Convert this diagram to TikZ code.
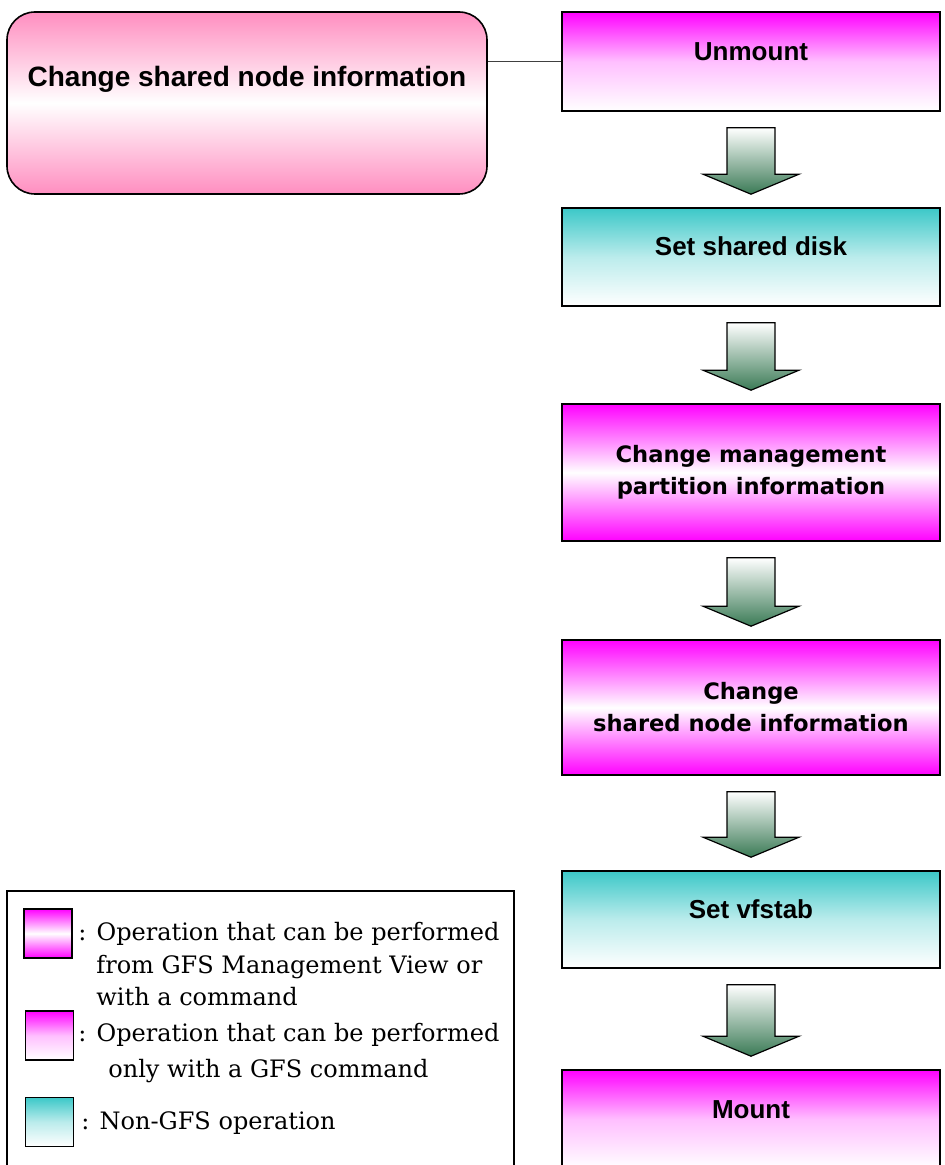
\documentclass[tikz,border=0pt]{standalone}
\usepackage{fontspec}
\usetikzlibrary{positioning,calc}
\newfontfamily\condsans{Liberation Sans}
\newfontfamily\widesans{DejaVu Sans}
\newfontfamily\legendserif{DejaVu Serif}
\definecolor{gfsmag}{HTML}{FF00FF}
\definecolor{nongfs}{HTML}{3CC8C8}
\definecolor{infopink}{HTML}{FF8EC0}
\definecolor{arrowgreen}{HTML}{3A7A55}
\definecolor{edgegray}{HTML}{404040}
\tikzset{
  opbox/.style={rectangle, draw=black, line width=0.8pt, inner sep=0pt,
                minimum width=189pt, align=center},
  cmdbox/.style={opbox, top color=gfsmag, bottom color=white, middle color=gfsmag!25!white,
                 minimum height=49.5pt, font=\condsans\bfseries\fontsize{13}{15}\selectfont,
                 text height=10pt, text depth=11pt},
  viewbox/.style={opbox, top color=gfsmag, bottom color=gfsmag, middle color=white,
                  minimum height=67.5pt, font=\widesans\bfseries\fontsize{11.3}{16}\selectfont},
  osbox/.style={opbox, top color=nongfs, bottom color=white, middle color=nongfs!35!white,
                minimum height=48.5pt, font=\condsans\bfseries\fontsize{13}{15}\selectfont,
                text height=10pt, text depth=11pt},
  infobox/.style={rectangle, rounded corners=14pt, draw=black, line width=0.8pt,
                  top color=infopink, bottom color=infopink, middle color=white,
                  minimum width=240pt, minimum height=91pt, inner sep=0pt,
                  font=\condsans\bfseries\fontsize{14}{17}\selectfont,
                  text height=10pt, text depth=26pt},
  flowarrow/.style={draw=black, line width=0.6pt, top color=white, bottom color=arrowgreen},
  swatch/.style={rectangle, draw=black, line width=0.8pt, minimum width=24pt,
                 minimum height=24.5pt, inner sep=0pt},
  legtext/.style={anchor=base west, inner sep=0pt,
                  font=\legendserif\fontsize{12}{14}\selectfont}
}
\begin{document}
\begin{tikzpicture}[x=0.5pt, y=-0.5pt, node distance=48pt]
\useasboundingbox (0,0) rectangle (944,1165);
\clip (0,0) rectangle (944,1165);
% procedure
\node[cmdbox] (unmount) at (751,61.5) {Unmount};
\node[osbox, minimum height=49pt, below=47.7pt of unmount] (setdisk) {Set shared disk};
\node[viewbox, minimum height=68.5pt, below=48.2pt of setdisk] (mgmtpart) {Change management\\partition information};
\node[viewbox, below=48.7pt of mgmtpart] (sharednode) {Change\\shared node information};
\node[osbox, below=47.2pt of sharednode] (vfstab) {Set vfstab};
\node[cmdbox, below=50.2pt of vfstab] (mount) {Mount};
% the operation shown
\node[infobox] (current) at (247,103) {Change shared node information};
\draw[edgegray, line width=0.8pt] (unmount.west -| current.east) -- (unmount.west);
\foreach \a/\b in {unmount/setdisk, setdisk/mgmtpart, mgmtpart/sharednode, sharednode/vfstab, vfstab/mount}
  \shadedraw[flowarrow] ($(\a.south)+(-24,16)$) -- ($(\a.south)+(24,16)$) -- ($(\b.north)+(24,-33)$)
    -- ($(\b.north)+(48,-33)$) -- ($(\b.north)+(0,-13)$) -- ($(\b.north)+(-48,-33)$)
    -- ($(\b.north)+(-24,-33)$) -- cycle;
% legend
\draw[black, line width=0.8pt] (7,891) rectangle (514,1180);
\node[swatch, top color=gfsmag, bottom color=gfsmag, middle color=white] (keyview) at (48,933.5) {};
\node[swatch, top color=gfsmag, bottom color=white, middle color=gfsmag!25!white] (keycmd) at (49.5,1035.5) {};
\node[swatch, top color=nongfs, bottom color=white, middle color=nongfs!35!white] (keyos) at (49.5,1122) {};
\node[legtext] (viewa) at (78,940) {: Operation that can be performed};
\node[legtext] (viewb) at (96,973) {from GFS Management View or};
\node[legtext] (viewc) at (96,1005) {with a command};
\node[legtext] (cmda) at (78,1041) {: Operation that can be performed};
\node[legtext] (cmdb) at (108,1077) {only with a GFS command};
\node[legtext] (osa) at (81,1129) {: Non-GFS operation};
\end{tikzpicture}
\end{document}
